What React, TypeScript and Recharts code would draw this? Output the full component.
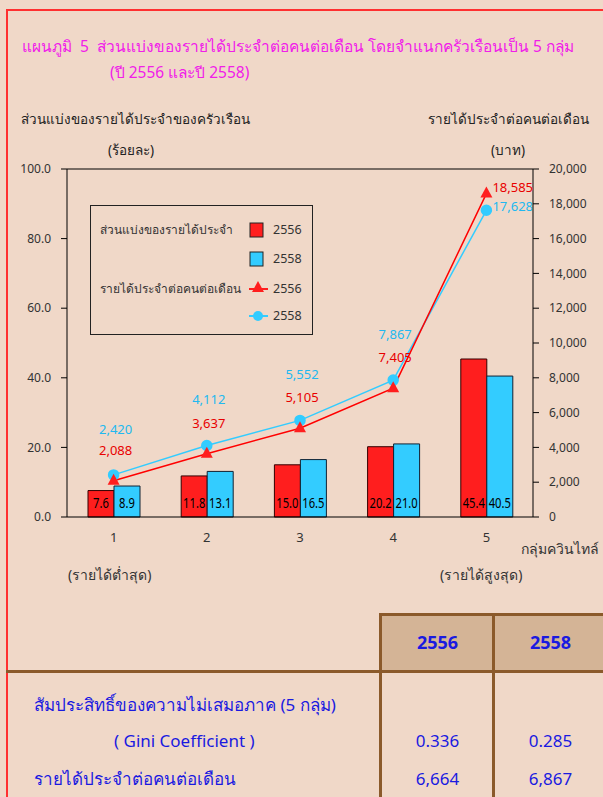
import type { FC } from "react";
import {
	Bar,
	ComposedChart,
	LabelList,
	Line,
	ReferenceLine,
	XAxis,
	YAxis,
} from "recharts";

const groups = ["1", "2", "3", "4", "5"];
const share2556 = [7.6, 11.8, 15.0, 20.2, 45.4];
const share2558 = [8.9, 13.1, 16.5, 21.0, 40.5];
const income2556 = [2088, 3637, 5105, 7405, 18585];
const income2558 = [2420, 4112, 5552, 7867, 17628];
const leftTicks = [0, 20, 40, 60, 80, 100];
const rightTicks = [0, 2000, 4000, 6000, 8000, 10000, 12000, 14000, 16000, 18000, 20000];

const tableYears = ["2556", "2558"];
const giniValues = ["0.336", "0.285"];
const monthlyIncome = ["6,664", "6,867"];

const data = groups.map((g, i) => ({
	group: g,
	s56: share2556[i],
	s58: share2558[i],
	i56: income2556[i],
	i58: income2558[i],
}));

const FONT = "Tahoma, 'Noto Sans', 'DejaVu Sans', sans-serif";
const RED = "#ff1e1e";
const BLUE = "#33ccff";
const BG = "#f0d8c8";

const fmt = (v: number) => v.toLocaleString("en-US");

// bar value sits near the bottom of each bar, squeezed so it fits inside
const BarValue = (props: any) => {
	const { x, y, width, height, value } = props;
	const cx = x + width / 2;
	const by = y + height - 9;
	return (
		<text
			transform={`translate(${cx},${by}) scale(0.8,1)`}
			x={0}
			y={0}
			textAnchor="middle"
			fontSize={14}
			fill="#000"
		>
			{Number(value).toFixed(1)}
		</text>
	);
};

const lineValue = (color: string, lift: number, sideDy: number) => (props: any) => {
	const { x, y, value, index } = props;
	if (index === groups.length - 1) {
		return (
			<text x={x + 6} y={y + sideDy} fontSize={13} fill={color}>
				{fmt(value)}
			</text>
		);
	}
	return (
		<text x={x + 2} y={y - lift} textAnchor="middle" fontSize={13} fill={color}>
			{fmt(value)}
		</text>
	);
};

const Triangle = (props: any) => {
	const { cx, cy } = props;
	if (cx == null || cy == null) return null;
	return <path d={`M${cx},${cy - 7} L${cx + 6},${cy + 4} L${cx - 6},${cy + 4} Z`} fill={RED} />;
};

const LegendBox: FC = () => (
	<div
		style={{
			position: "absolute",
			left: 90,
			top: 205,
			width: 221,
			height: 128,
			border: "1px solid #222",
			fontFamily: FONT,
			fontSize: 12,
			color: "#333",
			lineHeight: "20px",
		}}
	>
		<div style={{ position: "absolute", left: 9, top: 14 }}>ส่วนแบ่งของรายได้ประจำ</div>
		<div style={{ position: "absolute", left: 9, top: 73 }}>รายได้ประจำต่อคนต่อเดือน</div>
		<svg width={221} height={128} style={{ position: "absolute", left: 0, top: 0 }}>
			<rect x={159} y={17} width={13} height={14} fill={RED} stroke="#222" />
			<rect x={159} y={46} width={13} height={14} fill={BLUE} stroke="#222" />
			<line x1={158} x2={177} y1={83} y2={83} stroke={RED} strokeWidth={2} />
			<Triangle cx={167} cy={82} />
			<line x1={158} x2={177} y1={110} y2={110} stroke={BLUE} strokeWidth={2} />
			<circle cx={167} cy={110} r={5} fill={BLUE} />
		</svg>
		<div style={{ position: "absolute", left: 182, top: 14, fontSize: 12.5 }}>{tableYears[0]}</div>
		<div style={{ position: "absolute", left: 182, top: 43, fontSize: 12.5 }}>{tableYears[1]}</div>
		<div style={{ position: "absolute", left: 182, top: 73, fontSize: 12.5 }}>{tableYears[0]}</div>
		<div style={{ position: "absolute", left: 182, top: 100, fontSize: 12.5 }}>{tableYears[1]}</div>
	</div>
);

const abs = (left: number, top: number, extra: object = {}) => ({
	position: "absolute" as const,
	left,
	top,
	whiteSpace: "nowrap" as const,
	lineHeight: "20px",
	...extra,
});

const App: FC = () => {
	return (
		<div
			style={{
				position: "absolute",
				left: 0,
				top: 0,
				width: 603,
				height: 797,
				background: BG,
				overflow: "hidden",
				fontFamily: FONT,
			}}
		>
			<div style={{ position: "absolute", left: 6, top: 9, width: 597, height: 2, background: "#ff3030" }} />
			<div style={{ position: "absolute", left: 6, top: 9, width: 2, height: 788, background: "#ff3030" }} />

			<div style={abs(22, 36, { color: "#f020e8", fontSize: 15.5 })}>
				แผนภูมิ&nbsp;&nbsp;5&nbsp;&nbsp;ส่วนแบ่งของรายได้ประจำต่อคนต่อเดือน โดยจำแนกครัวเรือนเป็น 5 กลุ่ม
			</div>
			<div style={abs(110, 62, { color: "#f020e8", fontSize: 15.5 })}>(ปี 2556 และปี 2558)</div>

			<div style={abs(21, 109, { color: "#222", fontSize: 13.5 })}>ส่วนแบ่งของรายได้ประจำของครัวเรือน</div>
			<div style={abs(108, 140, { color: "#222", fontSize: 13.5 })}>(ร้อยละ)</div>
			<div style={abs(428, 109, { color: "#222", fontSize: 13.5 })}>รายได้ประจำต่อคนต่อเดือน</div>
			<div style={abs(491, 140, { color: "#222", fontSize: 13.5 })}>(บาท)</div>

			<div style={{ position: "absolute", left: 0, top: 0 }}>
				<ComposedChart
					width={603}
					height={600}
					data={data}
					margin={{ top: 169, right: 0, bottom: 53, left: 0 }}
					barGap={0}
					barSize={26}
				>
					<XAxis
						dataKey="group"
						axisLine={{ stroke: "#000" }}
						tickLine={false}
						tick={{ fill: "#333", fontSize: 13 }}
						tickMargin={10}
						height={30}
					/>
					<YAxis
						yAxisId="left"
						domain={[0, 100]}
						ticks={leftTicks}
						tickFormatter={(v: number) => v.toFixed(1)}
						axisLine={{ stroke: "#000" }}
						tickLine={{ stroke: "#000" }}
						tick={{ fill: "#333", fontSize: 12 }}
						width={67}
						tickSize={6}
						tickMargin={10}
					/>
					<YAxis
						yAxisId="right"
						orientation="right"
						domain={[0, 20000]}
						ticks={rightTicks}
						tickFormatter={fmt}
						axisLine={{ stroke: "#000" }}
						tickLine={{ stroke: "#000" }}
						tick={{ fill: "#333", fontSize: 12, textAnchor: "start" }}
						width={70}
						tickSize={6}
						tickMargin={10}
					/>
					<ReferenceLine yAxisId="left" y={100} stroke="#000" />
					<Bar yAxisId="left" dataKey="s56" fill={RED} stroke="#300" isAnimationActive={false}>
						<LabelList dataKey="s56" content={BarValue} />
					</Bar>
					<Bar yAxisId="left" dataKey="s58" fill={BLUE} stroke="#123" isAnimationActive={false}>
						<LabelList dataKey="s58" content={BarValue} />
					</Bar>
					<Line
						yAxisId="right"
						dataKey="i58"
						stroke={BLUE}
						strokeWidth={1.5}
						dot={{ r: 5, fill: BLUE, stroke: BLUE }}
						isAnimationActive={false}
					>
						<LabelList dataKey="i58" content={lineValue("#22b8f0", 41, 1)} />
					</Line>
					<Line
						yAxisId="right"
						dataKey="i56"
						stroke="#ff0000"
						strokeWidth={1.5}
						dot={<Triangle />}
						isAnimationActive={false}
					>
						<LabelList dataKey="i56" content={lineValue("#e80000", 26, -2)} />
					</Line>
				</ComposedChart>
			</div>

			<LegendBox />

			<div style={abs(521, 539, { color: "#333", fontSize: 14 })}>กลุ่มควินไทล์</div>
			<div style={abs(68, 565, { color: "#333", fontSize: 14 })}>(รายได้ต่ำสุด)</div>
			<div style={abs(440, 565, { color: "#333", fontSize: 14 })}>(รายได้สูงสุด)</div>

			{/* table */}
			<div style={{ position: "absolute", left: 380, top: 614, width: 230, height: 57, background: "#d4b496" }} />
			<div style={{ position: "absolute", left: 380, top: 613, width: 230, height: 3, background: "#8b5a2b" }} />
			<div style={{ position: "absolute", left: 6, top: 670, width: 600, height: 3, background: "#8b5a2b" }} />
			<div style={{ position: "absolute", left: 379, top: 613, width: 3, height: 190, background: "#8b5a2b" }} />
			<div style={{ position: "absolute", left: 492, top: 613, width: 3, height: 190, background: "#8b5a2b" }} />

			{tableYears.map((y, i) => (
				<div
					key={y}
					style={abs(382 + i * 113, 632, { width: 111, textAlign: "center", color: "#1a1ae0", fontSize: 18, fontWeight: "bold" })}
				>
					{y}
				</div>
			))}
			<div style={abs(34, 695, { color: "#1a1ae0", fontSize: 17 })}>สัมประสิทธิ์ของความไม่เสมอภาค (5 กลุ่ม)</div>
			<div style={abs(114, 731, { color: "#1a1ae0", fontSize: 17 })}>( Gini Coefficient )</div>
			<div style={abs(34, 769, { color: "#1a1ae0", fontSize: 17 })}>รายได้ประจำต่อคนต่อเดือน</div>
			{giniValues.map((v, i) => (
				<div key={v} style={abs(382 + i * 113, 731, { width: 111, textAlign: "center", color: "#1a1ae0", fontSize: 17 })}>
					{v}
				</div>
			))}
			{monthlyIncome.map((v, i) => (
				<div key={v} style={abs(382 + i * 113, 769, { width: 111, textAlign: "center", color: "#1a1ae0", fontSize: 17 })}>
					{v}
				</div>
			))}
		</div>
	);
};

export default App;
